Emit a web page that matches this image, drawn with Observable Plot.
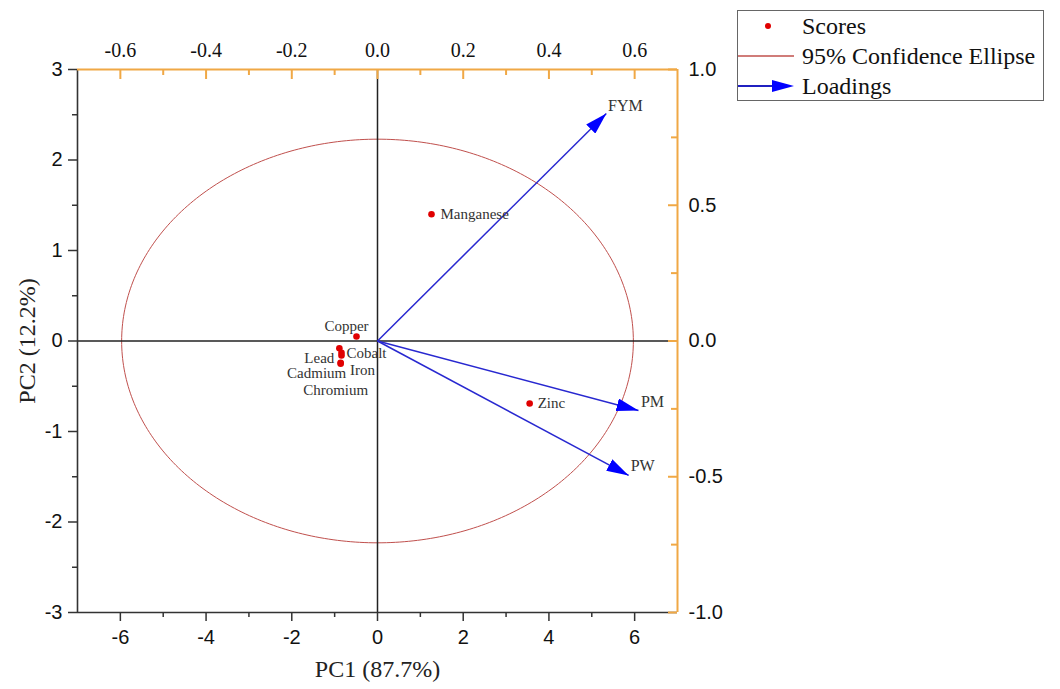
<!DOCTYPE html>
<html><head><meta charset="utf-8">
<script src="https://cdn.jsdelivr.net/npm/d3@7"></script>
<script src="https://cdn.jsdelivr.net/npm/@observablehq/plot@0.6"></script>
<style>
body{margin:0;background:#fff;}
#wrap{position:relative;width:1060px;height:689px;overflow:hidden;}
#legend{position:absolute;left:737px;top:10px;width:305px;height:89px;border:1px solid #666;font-family:"Liberation Serif","Times New Roman",serif;font-size:24px;color:#111;background:#fff;}
.row{position:absolute;left:0;width:305px;height:30px;}
.row svg{position:absolute;left:0;top:0;}
.row span{position:absolute;left:64px;top:0;line-height:30px;white-space:nowrap;}
</style></head>
<body><div id="wrap"><div id="chart"></div><div id="legend"></div></div>
<script>
// ---- data ----
const scoreNames = ["Copper", "Lead", "Cobalt", "Iron", "Cadmium", "Chromium", "Manganese", "Zinc"];
const scorePC1   = [-0.49, -0.89, -0.84, -0.84, -0.86, -0.86, 1.26, 3.55];
const scorePC2   = [0.05, -0.08, -0.13, -0.16, -0.25, -0.24, 1.40, -0.69];

const loadingNames = ["FYM", "PM", "PW"];
const loadingPC1   = [0.534, 0.609, 0.586];
const loadingPC2   = [0.838, -0.256, -0.495];

const ellipseCenter = [0, 0];
const ellipseRadii  = [5.97, 2.23];

const bottomTicks = [-6, -4, -2, 0, 2, 4, 6];
const bottomMinor = [-5, -3, -1, 1, 3, 5];
const leftTicks   = [-3, -2, -1, 0, 1, 2, 3];
const leftMinor   = [-2.5, -1.5, -0.5, 0.5, 1.5, 2.5];
const topTicks    = [-0.6, -0.4, -0.2, 0.0, 0.2, 0.4, 0.6];
const topMinor    = [-0.5, -0.3, -0.1, 0.1, 0.3, 0.5];
const rightTicks  = [-1.0, -0.5, 0.0, 0.5, 1.0];
const rightMinor  = [-0.75, -0.25, 0.25, 0.75];

const xDomain = [-7, 7], yDomain = [-3, 3];
const loadXDomain = [-0.7, 0.7], loadYDomain = [-1, 1];
const xTitle = "PC1 (87.7%)", yTitle = "PC2 (12.2%)";
const legendLabels = ["Scores", "95% Confidence Ellipse", "Loadings"];

// ---- derived ----
const kx = xDomain[1] / loadXDomain[1];   // loading -> score space
const ky = yDomain[1] / loadYDomain[1];

const scores = scoreNames.map((n, i) => ({name: n, x: scorePC1[i], y: scorePC2[i]}));
const loadings = loadingNames.map((n, i) => ({name: n, x: loadingPC1[i] * kx, y: loadingPC2[i] * ky}));
const ellipse = d3.range(0, 361, 1).map(a => ({
  x: ellipseCenter[0] + ellipseRadii[0] * Math.cos(a * Math.PI / 180),
  y: ellipseCenter[1] + ellipseRadii[1] * Math.sin(a * Math.PI / 180)
}));

// label offsets (styling)
const scoreLabelOffset = {
  Copper: [-10, -10, "middle"], Lead: [-20, 10, "middle"], Cobalt: [25, 0, "middle"],
  Iron: [21, 15, "middle"], Cadmium: [-24, 10, "middle"], Chromium: [-5, 27, "middle"],
  Manganese: [9, 0, "start"], Zinc: [8, 0, "start"]
};
const loadLabelOffset = {FYM: [19, -8], PM: [14, -9], PW: [14, -10]};

const ORANGE = "#f0a845";
const SERIF = "Liberation Serif, Times New Roman, serif";
const SANS = "Liberation Sans, Arial, sans-serif";

function triMarker(color, context) {
  const doc = context && context.document ? context.document : document;
  const ns = "http://www.w3.org/2000/svg";
  const m = doc.createElementNS(ns, "marker");
  m.setAttribute("viewBox", "-22 -6.5 22 13");
  m.setAttribute("markerWidth", "22");
  m.setAttribute("markerHeight", "13");
  m.setAttribute("markerUnits", "userSpaceOnUse");
  m.setAttribute("refX", "0");
  m.setAttribute("refY", "0");
  m.setAttribute("orient", "auto");
  const p = doc.createElementNS(ns, "path");
  p.setAttribute("d", "M-22,-6.5L0,0L-22,6.5Z");
  p.setAttribute("fill", "#0000ff");
  p.setAttribute("stroke", "none");
  m.appendChild(p);
  return m;
}

const plotW = 1060 - 77 - 383, plotH = 689 - 69 - 77;

const chart = Plot.plot({
  width: 1060, height: 689,
  marginLeft: 77, marginRight: 383, marginTop: 69, marginBottom: 77,
  x: {domain: xDomain},
  y: {domain: yDomain},
  style: {fontFamily: SANS, background: "white", color: "#111"},
  marks: [
    Plot.line(ellipse, {x: "x", y: "y", stroke: "#c0504d", strokeWidth: 1}),
    Plot.ruleX([0], {stroke: "#222", strokeWidth: 1.5}),
    Plot.ruleY([0], {stroke: "#222", strokeWidth: 1.5}),
    // frame
    Plot.ruleX([xDomain[0]], {stroke: "#333", strokeWidth: 1.6}),
    Plot.ruleY([yDomain[0]], {stroke: "#333", strokeWidth: 1.6}),
    Plot.ruleY([yDomain[1]], {stroke: ORANGE, strokeWidth: 2}),
    Plot.ruleX([xDomain[1]], {stroke: ORANGE, strokeWidth: 2}),
    // bottom axis
    Plot.axisX(bottomTicks, {anchor: "bottom", tickSize: 9, tickPadding: 8, fontSize: 20, fontFamily: SANS, stroke: "#333", strokeWidth: 1.5, tickFormat: d => String(d), label: null}),
    Plot.axisX(bottomMinor, {anchor: "bottom", tickSize: 5, stroke: "#333", strokeWidth: 1.5, tickFormat: () => "", label: null}),
    // left axis
    Plot.axisY(leftTicks, {anchor: "left", tickSize: 9, tickPadding: 6, fontSize: 20, fontFamily: SANS, stroke: "#333", strokeWidth: 1.5, tickFormat: d => String(d), label: null}),
    Plot.axisY(leftMinor, {anchor: "left", tickSize: 5, stroke: "#333", strokeWidth: 1.5, tickFormat: () => "", label: null}),
    // top axis (loadings PC1)
    Plot.tickX(topTicks.map(v => v * kx), {x: d => d, stroke: ORANGE, strokeWidth: 2, insetBottom: plotH - 10}),
    Plot.tickX(topMinor.map(v => v * kx), {x: d => d, stroke: ORANGE, strokeWidth: 2, insetBottom: plotH - 6}),
    Plot.axisX(topTicks.map(v => v * kx), {anchor: "top", tickSize: 0, tickPadding: 13, fontSize: 20, fontFamily: SERIF, tickFormat: d => (d / kx).toFixed(1), label: null}),
    // right axis (loadings PC2)
    Plot.tickY(rightTicks.map(v => v * ky), {y: d => d, stroke: ORANGE, strokeWidth: 2, insetLeft: plotW - 9}),
    Plot.tickY(rightMinor.map(v => v * ky), {y: d => d, stroke: ORANGE, strokeWidth: 2, insetLeft: plotW - 6}),
    Plot.axisY(rightTicks.map(v => v * ky), {anchor: "right", tickSize: 0, tickPadding: 11, fontSize: 20, fontFamily: SANS, tickFormat: d => (d / ky).toFixed(1), label: null}),
    // loadings arrows
    Plot.link(loadings, {x1: 0, y1: 0, x2: "x", y2: "y", stroke: "#2828d0", strokeWidth: 1.5, markerEnd: triMarker}),
    ...loadings.map(l => Plot.text([l], {x: "x", y: "y", text: "name", dx: loadLabelOffset[l.name][0], dy: loadLabelOffset[l.name][1],
      fontFamily: SERIF, fontSize: 16, fill: "#333", textAnchor: "middle", lineAnchor: "middle"})),
    // scores
    Plot.dot(scores, {x: "x", y: "y", r: 3.3, fill: "#e00000", stroke: "none"}),
    ...scores.map(s => Plot.text([s], {x: "x", y: "y", text: "name", dx: scoreLabelOffset[s.name][0], dy: scoreLabelOffset[s.name][1],
      textAnchor: scoreLabelOffset[s.name][2], lineAnchor: "middle", fontFamily: SERIF, fontSize: 15, fill: "#333"})),
    // axis titles
    Plot.text([xTitle], {frameAnchor: "bottom", dy: 57, fontFamily: SERIF, fontSize: 24, fill: "#222", lineAnchor: "middle", textAnchor: "middle"}),
    Plot.text([yTitle], {frameAnchor: "left", dx: -50, rotate: -90, fontFamily: SERIF, fontSize: 24, fill: "#222", lineAnchor: "middle", textAnchor: "middle"})
  ]
});
document.getElementById("chart").appendChild(chart);

// legend
const lg = document.getElementById("legend");
const rows = [
  `<svg width="60" height="30"><circle cx="30" cy="15" r="3" fill="#e00000"/></svg>`,
  `<svg width="60" height="30"><line x1="0" y1="15" x2="56" y2="15" stroke="#c0504d" stroke-width="1.5"/></svg>`,
  `<svg width="60" height="30"><line x1="0" y1="15" x2="40" y2="15" stroke="#2020c0" stroke-width="2"/><path d="M34,9L56,15L34,21Z" fill="#0000ff"/></svg>`
];
rows.forEach((r, i) => {
  const d = document.createElement("div");
  d.className = "row";
  d.style.top = (i * 30) + "px";
  d.innerHTML = r + `<span>${legendLabels[i]}</span>`;
  lg.appendChild(d);
});
</script>
</body></html>
